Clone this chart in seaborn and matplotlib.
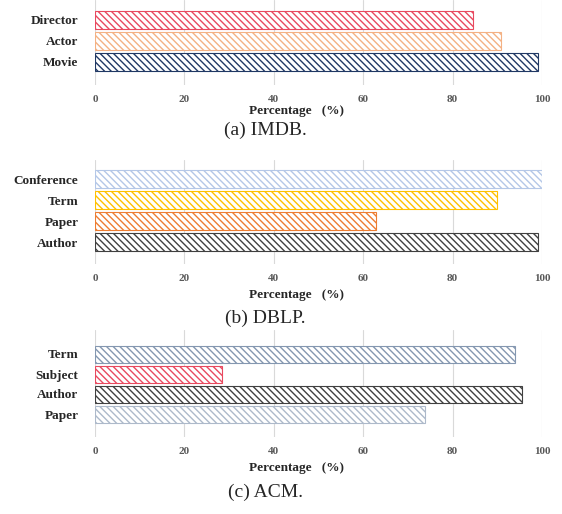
import matplotlib
matplotlib.use("Agg")
import matplotlib.pyplot as plt
import seaborn as sns
import pandas as pd

# data
imdb_types = ["Director", "Actor", "Movie"]
imdb_pct = [84.5, 90.9, 99.0]
imdb_colors = ["#E8495F", "#F4B183", "#203864"]

dblp_types = ["Conference", "Term", "Paper", "Author"]
dblp_pct = [100.0, 90.0, 62.8, 99.0]
dblp_colors = ["#B4C7E7", "#FFC000", "#ED7D31", "#404040"]

acm_types = ["Term", "Subject", "Author", "Paper"]
acm_pct = [94.0, 28.5, 95.6, 73.9]
acm_colors = ["#8497B0", "#E8495F", "#404040", "#ADB9CA"]

xticks = [0, 20, 40, 60, 80, 100]

sns.set_style("white")
plt.rcParams['font.family'] = ['Liberation Serif', 'DejaVu Serif']
plt.rcParams['hatch.linewidth'] = 1.0

W, H = 562, 514
fig = plt.figure(figsize=(W / 100, H / 100), dpi=100)

# (top px, bottom px, ylim top, ylim bottom, xlabel y px, caption y px)
panels = [
    (imdb_types, imdb_pct, imdb_colors, "(a) IMDB.", 0, 85, -0.95, 3.1, 111, 130),
    (dblp_types, dblp_pct, dblp_colors, "(b) DBLP.", 160, 264, -0.92, 4.05, 295, 318),
    (acm_types, acm_pct, acm_colors, "(c) ACM.", 330, 437, -1.2, 4.15, 468, 492),
]

left_px, right_px = 95, 542
for types, pct, colors, caption, top, bottom, ytop, ybot, lab_y, cap_y in panels:
    ax = fig.add_axes([left_px / W, 1 - bottom / H, (right_px - left_px) / W, (bottom - top) / H])
    df = pd.DataFrame({"type": types, "pct": pct})
    sns.barplot(data=df, x="pct", y="type", hue="type", palette=colors,
                orient="h", width=0.85, legend=False, ax=ax, zorder=3)
    for patch, c in zip(ax.patches, colors):
        patch.set_facecolor("white")
        patch.set_edgecolor(c)
        patch.set_linewidth(0.8)
        patch.set_hatch("\\\\\\\\\\")
    ax.set_xlim(0, 100)
    ax.set_ylim(ybot, ytop)
    ax.set_xticks(xticks)
    ax.set_xticklabels([str(t) for t in xticks], fontsize=8, fontweight="bold", color="#595959")
    ax.tick_params(axis="x", length=0, pad=7)
    ax.tick_params(axis="y", length=0, pad=12)
    for lab in ax.get_yticklabels():
        lab.set_fontsize(9.5)
        lab.set_fontweight("bold")
    ax.grid(axis="x", color="#D9D9D9", linewidth=0.8, zorder=0)
    ax.set_axisbelow(True)
    for s in ax.spines.values():
        s.set_visible(False)
    ax.set_ylabel("")
    ax.set_xlabel("Percentage   (%)", fontsize=9.5, fontweight="bold")
    ax.xaxis.set_label_coords(0.45, -(lab_y - bottom) / (bottom - top))
    ax.xaxis.label.set_va("center")
    fig.text(265 / W, 1 - cap_y / H, caption, ha="center", va="center", fontsize=14)

fig.savefig("out.png", dpi=100)
